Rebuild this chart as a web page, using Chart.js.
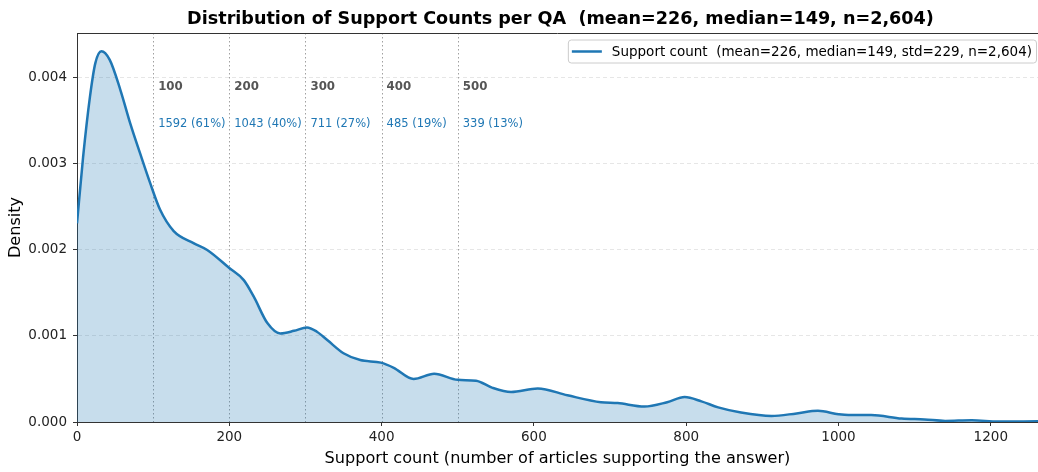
<!DOCTYPE html>
<html>
<head>
<meta charset="utf-8">
<script src="https://cdn.jsdelivr.net/npm/chart.js@4"></script>
<style>
  html, body { margin: 0; padding: 0; background: #fff; }
  #wrap { width: 1038px; height: 472px; position: relative; }
</style>
</head>
<body>
<div id="wrap"><canvas id="kdeChart"></canvas></div>
<script>
// KDE curve
const supportX = [0, 8, 17, 24, 32, 43, 57, 70, 83, 96, 109, 127, 153, 171, 200, 219, 232, 250, 267, 285,
  302, 315, 329, 350, 372, 399, 416, 442, 469, 500, 524, 545, 570, 605, 644, 688, 710, 745, 775, 798,
  820, 842, 872, 912, 945, 973, 1000, 1013, 1043, 1083, 1113, 1140, 1175, 1210, 1262];
const density = [0.00231, 0.00308, 0.00378, 0.00417, 0.00431, 0.00421, 0.00386, 0.00347, 0.00312, 0.00278,
  0.00247, 0.00222, 0.00208, 0.00200, 0.00179, 0.00165, 0.00146, 0.00115, 0.00103, 0.00106,
  0.00110, 0.00105, 0.00095, 0.00080, 0.00072, 0.00069, 0.00063, 0.00050, 0.00056, 0.00049,
  0.00048, 0.00040, 0.00035, 0.00039, 0.00031, 0.00023, 0.00022, 0.00018, 0.00023, 0.00029,
  0.00024, 0.00017, 0.00011, 0.00007, 0.00010, 0.00013, 0.00009, 0.00008, 0.00008, 0.00004,
  0.00003, 0.000013, 0.00002, 0.000005, 0.000008];

// threshold markers
const thresholds = [100, 200, 300, 400, 500];
const aboveCounts = [1592, 1043, 711, 485, 339];
const abovePct = [61, 40, 27, 19, 13];

const xTicks = [0, 200, 400, 600, 800, 1000, 1200];
const yTicks = [0, 0.001, 0.002, 0.003, 0.004];

const titleText = 'Distribution of Support Counts per QA  (mean=226, median=149, n=2,604)';
const legendText = 'Support count  (mean=226, median=149, std=229, n=2,604)';

const FONT = "'DejaVu Sans', sans-serif";
const BLUE = '#1f77b4';

// title, top spine, threshold lines + labels, legend
const extrasPlugin = {
  id: 'extras',
  beforeDatasetsDraw(chart) {
    const { ctx, chartArea: a, scales: { x } } = chart;
    ctx.save();
    ctx.strokeStyle = '#a0a0a0';
    ctx.lineWidth = 1;
    ctx.setLineDash([1.5, 2.5]);
    thresholds.forEach(t => {
      const px = Math.round(x.getPixelForValue(t)) + 0.5;
      ctx.beginPath();
      ctx.moveTo(px, a.top);
      ctx.lineTo(px, a.bottom);
      ctx.stroke();
    });
    ctx.restore();
  },
  afterDraw(chart) {
    const { ctx, chartArea: a, scales: { x } } = chart;
    ctx.save();
    // title
    ctx.fillStyle = '#000';
    ctx.font = 'bold 17.6px ' + FONT;
    ctx.textAlign = 'center';
    ctx.textBaseline = 'middle';
    ctx.fillText(titleText, (a.left + a.right) / 2 + 3, 19);

    // top spine
    ctx.strokeStyle = '#333';
    ctx.lineWidth = 1;
    ctx.beginPath();
    ctx.moveTo(a.left, a.top + 0.5);
    ctx.lineTo(a.right, a.top + 0.5);
    ctx.stroke();

    // threshold labels
    ctx.textAlign = 'left';
    thresholds.forEach((t, i) => {
      const px = x.getPixelForValue(t) + 5;
      ctx.fillStyle = '#555';
      ctx.font = 'bold 11.8px ' + FONT;
      ctx.fillText(String(t), px, a.top + (a.bottom - a.top) * 0.139);
      ctx.fillStyle = BLUE;
      ctx.font = '11.5px ' + FONT;
      ctx.fillText(aboveCounts[i] + ' (' + abovePct[i] + '%)', px, a.top + (a.bottom - a.top) * 0.234);
    });

    // legend box
    ctx.font = '13.5px ' + FONT;
    const tw = ctx.measureText(legendText).width;
    const bw = tw + 48, bh = 23;
    const bx = a.right - 2 - bw, by = a.top + 6.5;
    ctx.fillStyle = 'rgba(255,255,255,0.85)';
    ctx.strokeStyle = '#cccccc';
    ctx.beginPath();
    ctx.roundRect(bx + 0.5, by + 0.5, bw, bh, 3);
    ctx.fill();
    ctx.stroke();
    ctx.strokeStyle = BLUE;
    ctx.lineWidth = 2.5;
    ctx.beginPath();
    ctx.moveTo(bx + 4, by + bh / 2 + 0.5);
    ctx.lineTo(bx + 34, by + bh / 2 + 0.5);
    ctx.stroke();
    ctx.fillStyle = '#000';
    ctx.textBaseline = 'middle';
    ctx.fillText(legendText, bx + 44, by + bh / 2 + 1);
    ctx.restore();
  }
};

document.addEventListener('DOMContentLoaded', function() {
  const points = supportX.map((v, i) => ({ x: v, y: density[i] }));
  const ctx = document.getElementById('kdeChart').getContext('2d');
  new Chart(ctx, {
    type: 'line',
    data: {
      datasets: [{
        label: legendText,
        data: points,
        borderColor: BLUE,
        borderWidth: 2.5,
        backgroundColor: 'rgba(31, 119, 180, 0.25)',
        fill: 'origin',
        pointRadius: 0,
        cubicInterpolationMode: 'monotone'
      }]
    },
    options: {
      responsive: true,
      maintainAspectRatio: false,
      animation: false,
      layout: { padding: { top: 33, right: 0, left: 0, bottom: 0 } },
      plugins: {
        legend: { display: false },
        title: { display: false },
        tooltip: { enabled: false }
      },
      scales: {
        x: {
          type: 'linear',
          min: 0,
          max: 1262,
          afterBuildTicks: s => { s.ticks = xTicks.map(v => ({ value: v })); },
          ticks: { color: '#222', font: { family: FONT, size: 13.5 }, padding: 3, maxRotation: 0, autoSkip: false,
                   callback: v => String(v) },
          grid: { drawOnChartArea: false, tickLength: 4, tickColor: '#333' },
          border: { color: '#333', width: 1 },
          title: { display: true, text: 'Support count (number of articles supporting the answer)',
                   color: '#000', font: { family: FONT, size: 16.1 }, padding: { top: 0, bottom: 4 } },
          afterFit: s => { s.height = 50; }
        },
        y: {
          min: 0,
          max: 0.004523,
          afterBuildTicks: s => { s.ticks = yTicks.map(v => ({ value: v })); },
          ticks: { color: '#222', font: { family: FONT, size: 13.5 }, padding: 6,
                   callback: v => v.toFixed(3) },
          grid: { color: '#e6e6e6', lineWidth: 1, tickLength: 4, tickColor: '#333', tickBorderDash: [] },
          border: { color: '#333', width: 1, dash: [4, 3] },
          title: { display: true, text: 'Density', color: '#000',
                   font: { family: FONT, size: 16.1 }, padding: { top: 6, bottom: 0 } },
          afterFit: s => { s.width = 77; }
        }
      }
    },
    plugins: [extrasPlugin]
  });
});
</script>
</body>
</html>
